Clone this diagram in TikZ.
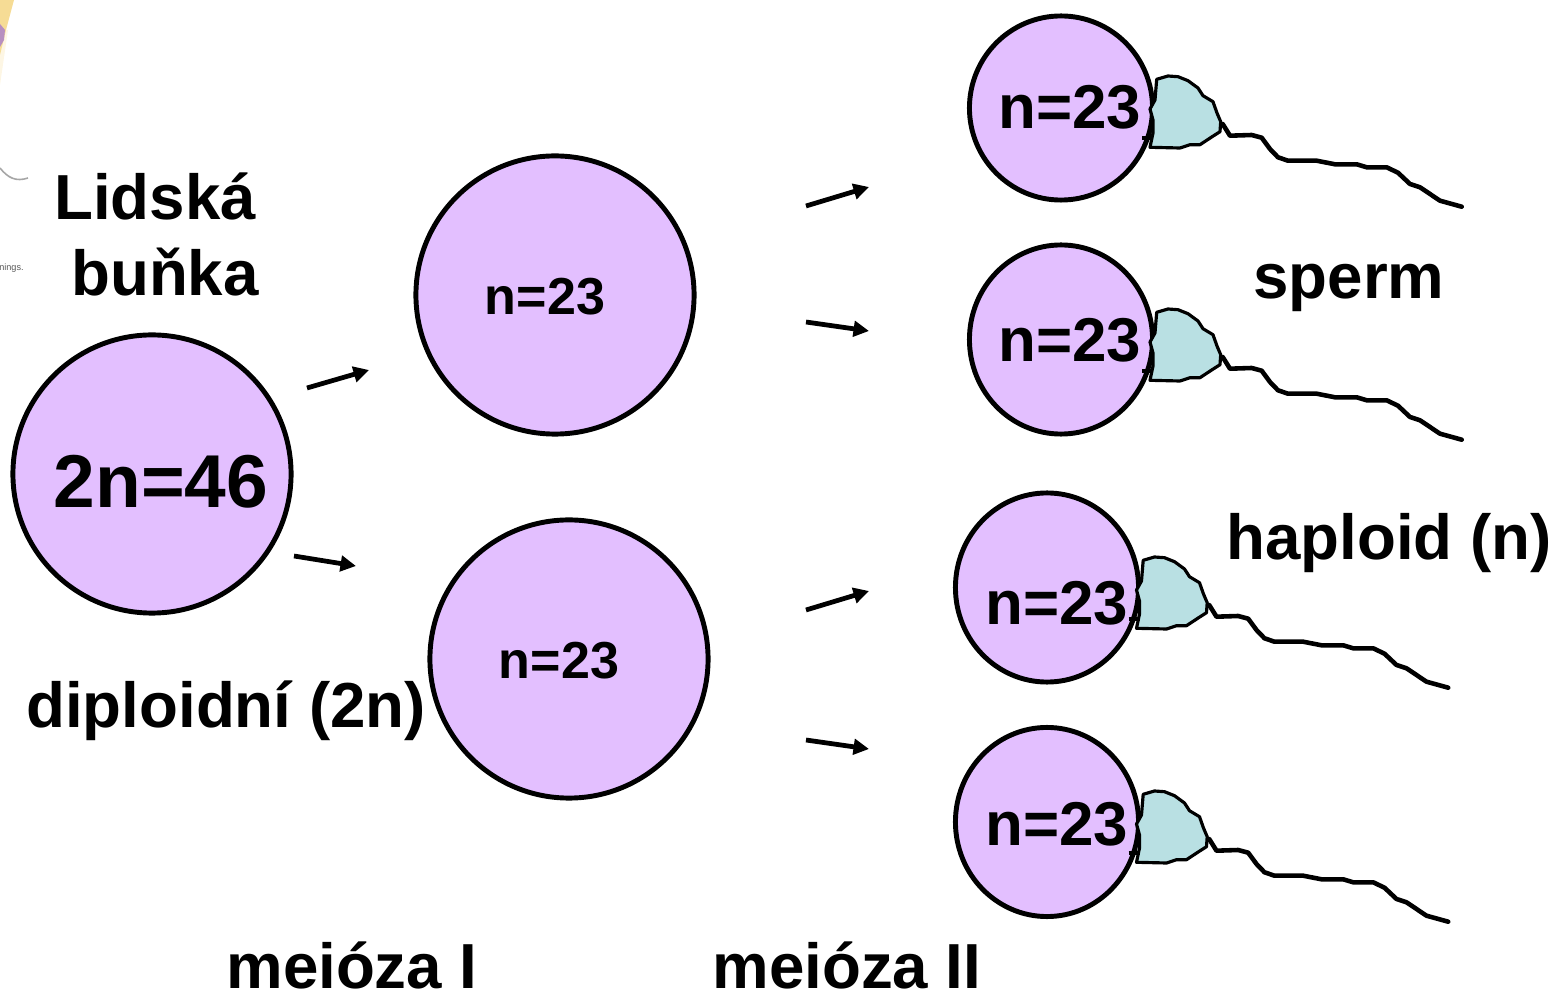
\documentclass[tikz,border=0pt]{standalone}
\usepackage{fontspec}
\setmainfont{Liberation Sans}
\usetikzlibrary{arrows.meta,positioning,calc,shapes.geometric}
\definecolor{cellfill}{HTML}{E3BFFF}
\definecolor{headfill}{HTML}{B9E0E3}
\definecolor{scrapyellow}{HTML}{F6DC95}
\definecolor{scrappurple}{HTML}{B78FC0}
\tikzset{every picture/.style={line width=0.75pt},
    bigcell/.style={circle, draw, line width=1.4pt, fill=cellfill, minimum size=2.78cm, inner sep=0pt},
    smallcell/.style={ellipse, draw, line width=1.4pt, fill=cellfill, minimum width=1.83cm, minimum height=1.89cm, inner sep=0pt},
    lab/.style={anchor=base, font=\bfseries\fontsize{18.1}{18}\selectfont, inner sep=0pt},
    cnt/.style={anchor=base, font=\bfseries\fontsize{14.8}{15}\selectfont, inner sep=0pt},
    cntbig/.style={anchor=base, font=\bfseries\fontsize{17.6}{18}\selectfont, inner sep=0pt},
    arr/.style={line width=1.35pt, -{Triangle[length=4.4pt,width=4.4pt]}},
    pics/spermcell/.style={code={
        % head
        \draw[fill=headfill, line width=0.9pt, line join=round] (6.7,-67.7) -- (18,-71) -- (28,-70.3) -- (38,-66.3)
            -- (48,-59) -- (53,-51.3) -- (63,-45.3) -- (67,-34) -- (70.7,-25.3) -- (70,-15.3)
            -- (61.7,-10) -- (50,-2.3) -- (40,-2.3) -- (30,1) -- (0,0.3) -- (3,-14) -- (3,-27)
            -- (0,-38) -- (5,-47) -- cycle;
        \draw[line width=0.9pt] (-8,-9) -- (3,-9);
        % tail
        \draw[line width=1.3pt, line join=round, line cap=round] (72.7,-23) -- (80,-11.3) -- (101.7,-12) -- (111.7,-9.3)
            -- (120,2) -- (128,10.3) -- (138,13.7) -- (166.7,13.7) -- (185,17.3) -- (206.7,17.3)
            -- (216.7,20.3) -- (236.7,20.3) -- (248,25.7) -- (260,37) -- (270,40.3) -- (290,53.7)
            -- (311.7,59.7);
    }}
}

\begin{document}
\begin{tikzpicture}[x=0.01cm, y=-0.01cm]
    \useasboundingbox (0,0) rectangle (1559,994);
    % scraps at the left edge
    \fill[scrapyellow!25] (0,30) -- (8,30) -- (0,85) -- cycle;
    \fill[scrapyellow] (0,0) -- (14,0) -- (6,30) -- (0,55) -- cycle;
    \fill[scrappurple] (0,24) -- (5,30) -- (4,40) -- (0,47) -- cycle;
    \draw[black!35, line width=0.45pt] (0,168) .. controls (8,178) and (16,182) .. (28,178);
    \node[anchor=base east, inner sep=0pt, text=black!65, font=\fontsize{2.6}{3}\selectfont] (scrap) at (25,271) {nings.};

    % the cells
    \node[bigcell] (cell) at (152,474) {};
    \node[bigcell] (meioA) at (555,295) {};
    \node[bigcell] (meioB) at (569,659) {};
    \node[smallcell, minimum height=1.84cm] (gamA) at (1061,108) {};
    \node[smallcell] (gamB) at (1061,339.5) {};
    \node[smallcell] (gamC) at (1047,587.5) {};
    \node[smallcell] (gamD) at (1047,822) {};

    % four sperm heads and tails
    \foreach \sx/\sy in {1150/147, 1150/380, 1136.5/628, 1136.5/862}
        \pic at (\sx,\sy) {spermcell};

    % arrows
    \coordinate (a1) at (307,388); \coordinate (a2) at (369,370);
    \coordinate (b1) at (294,556); \coordinate (b2) at (356,566);
    \coordinate (c1) at (806,206); \coordinate (c2) at (869,187);
    \coordinate (d1) at (806,322); \coordinate (d2) at (869,331);
    \coordinate (e1) at (806,610); \coordinate (e2) at (869,591);
    \coordinate (f1) at (806,740); \coordinate (f2) at (869,749);
    \foreach \p in {a,b,c,d,e,f}
        \draw[arr] (\p1) -- (\p2);

    % labels
    \node[lab] (lidska) at (155,220) {Lidská};
    \node[lab] (bunka) at (165,296) {buňka};
    \node[anchor=base, inner sep=0pt, font=\bfseries\fontsize{21.3}{22}\selectfont] (dvan) at (161,508) {2n=46};
    \node[lab] (diplo) at (226,728) {diploidní (2n)};
    \node[cnt] (nA) at (545,315) {n=23};
    \node[cnt] (nB) at (559,679) {n=23};
    \node[cntbig] (gA) at (1070,129) {n=23};
    \node[cntbig] (gB) at (1070,362) {n=23};
    \node[cntbig] (gC) at (1057,625) {n=23};
    \node[cntbig] (gD) at (1057,846) {n=23};
    \node[lab] (sperm) at (1349,299) {sperm};
    \node[lab] (haplo) at (1389,560) {haploid (n)};
    \node[lab] (mI) at (352,988.5) {meióza I};
    \node[lab] (mII) at (847,988.5) {meióza II};
\end{tikzpicture}
\end{document}
